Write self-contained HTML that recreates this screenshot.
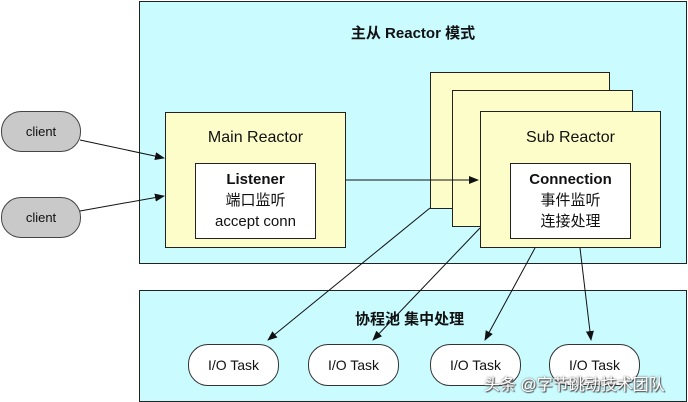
<!DOCTYPE html>
<html><head><meta charset="utf-8"><style>
body{margin:0;width:688px;height:402px;background:#fff;position:relative;overflow:hidden;font-family:"Liberation Sans","Noto Sans CJK SC",sans-serif;}
div{position:absolute;box-sizing:border-box;}
.cy{background:#c9fbff;border:1px solid #222;}
.yl{background:#fdfdc9;border:1px solid #222;}
.wh{background:#fff;border:1px solid #222;text-align:center;font-size:15px;line-height:21px;color:#111;padding-top:5px;}
.cl{background:#c9c9c9;border:1px solid #444;border-radius:20px;text-align:center;font-size:13px;color:#111;}
.tk{background:#fff;border:1px solid #333;border-radius:20px;text-align:center;font-size:14px;line-height:40px;color:#111;}
.lb{font-size:16px;color:#111;text-align:center;}
</style></head><body>
<div class="cy" style="left:139px;top:1px;width:548px;height:263px"></div>
<div style="left:139px;top:22px;width:548px;text-align:center;font-size:15px;font-weight:bold;color:#111">主从 Reactor 模式</div>
<div class="cy" style="left:139px;top:290px;width:548px;height:112px"></div>
<div style="left:355px;top:308px;font-size:15px;font-weight:bold;color:#111">协程池 集中处理</div>
<div class="cl" style="left:1px;top:111px;width:80px;height:41px;line-height:39px">client</div>
<div class="cl" style="left:1px;top:197px;width:80px;height:41px;line-height:39px">client</div>
<div class="yl" style="left:165px;top:112px;width:181px;height:136px"></div>
<div class="lb" style="left:165px;top:129px;width:181px">Main Reactor</div>
<div class="wh" style="left:195px;top:163px;width:121px;height:76px"><b>Listener</b><br>端口监听<br>accept conn</div>
<div class="yl" style="left:430px;top:72px;width:180px;height:137px"></div>
<div class="yl" style="left:452px;top:90px;width:181px;height:137px"></div>
<div class="yl" style="left:480px;top:111px;width:181px;height:137px"></div>
<div class="lb" style="left:480px;top:129px;width:181px">Sub Reactor</div>
<div class="wh" style="left:510px;top:163px;width:121px;height:76px"><b>Connection</b><br>事件监听<br>连接处理</div>
<div class="tk" style="left:188px;top:344px;width:91px;height:42px">I/O Task</div>
<div class="tk" style="left:308px;top:344px;width:91px;height:42px">I/O Task</div>
<div class="tk" style="left:430px;top:344px;width:91px;height:42px">I/O Task</div>
<div class="tk" style="left:549px;top:344px;width:91px;height:42px">I/O Task</div>
<svg style="position:absolute;left:0;top:0" width="688" height="402">
<defs><marker id="a" markerWidth="10" markerHeight="8" refX="9" refY="4" orient="auto" markerUnits="userSpaceOnUse"><path d="M0,0L10,4L0,8z" fill="#111"/></marker></defs>
<g stroke="#111" stroke-width="1" marker-end="url(#a)">
<line x1="80" y1="140" x2="164" y2="158"/>
<line x1="80" y1="211" x2="164" y2="196"/>
<line x1="346" y1="180" x2="478" y2="180"/>
<line x1="430" y1="208" x2="268" y2="340"/>
<line x1="480" y1="228" x2="373" y2="340"/>
<line x1="535" y1="248" x2="485" y2="340"/>
<line x1="580" y1="248" x2="591" y2="340"/>
</g></svg>
<div style="left:484px;top:371px;font-size:16px;color:#fff;text-shadow:0 0 2px #555,1px 1px 1px #444">头条 @字节跳动技术团队</div>
</body></html>
